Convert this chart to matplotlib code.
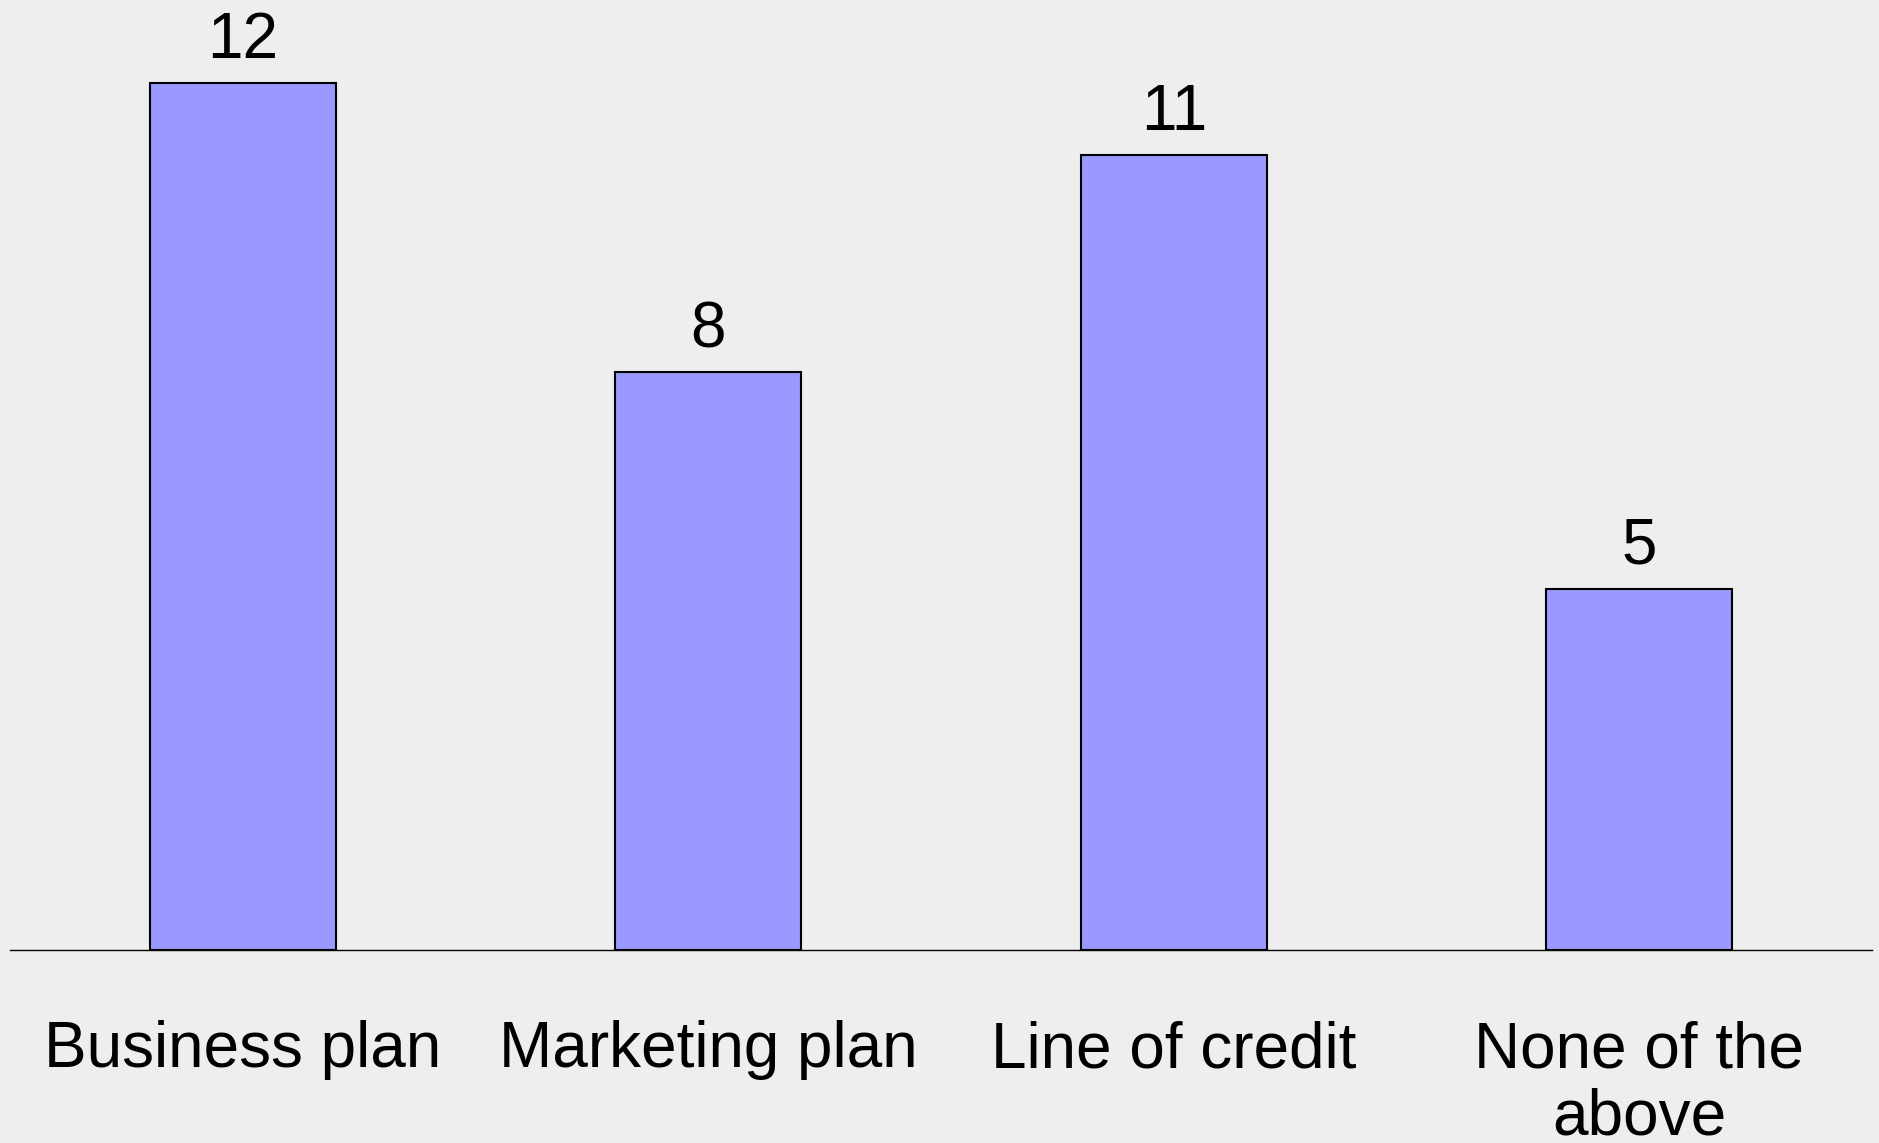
import matplotlib.pyplot as plt

categories = ["Business plan", "Marketing plan", "Line of credit", "None of the\nabove"]
counts = [12, 8, 11, 5]

plt.rcParams['font.family'] = ['Liberation Sans', 'DejaVu Sans']

fig = plt.figure(figsize=(18.79, 11.43), dpi=100, facecolor="#eeeeee")
ax = fig.add_axes([10 / 1879, 193 / 1143, 1862 / 1879, 950 / 1143])
ax.set_facecolor("#eeeeee")

x = range(len(categories))
bars = ax.bar(x, counts, width=0.4, color="#9999ff", edgecolor="black", linewidth=1.5, zorder=3)

ax.set_xlim(-0.5, len(categories) - 0.5)
ax.set_ylim(0, 950 / 72.25)

for s in ["top", "left", "right"]:
    ax.spines[s].set_visible(False)
ax.spines["bottom"].set_linewidth(1.0)
ax.set_xticks([])
ax.set_yticks([])

# value labels above bars
for i, v in enumerate(counts):
    ax.annotate(str(v), xy=(i, v), xytext=(0, 25), textcoords="offset pixels",
                ha="center", va="baseline", fontsize=46, annotation_clip=False)

# category labels under the axis
for i, lab in enumerate(categories):
    ax.annotate(lab, xy=(i, 0), xytext=(0, -70), textcoords="offset pixels",
                ha="center", va="top", fontsize=46, linespacing=1.15,
                annotation_clip=False)

fig.savefig("out.png", dpi=100, facecolor=fig.get_facecolor())
